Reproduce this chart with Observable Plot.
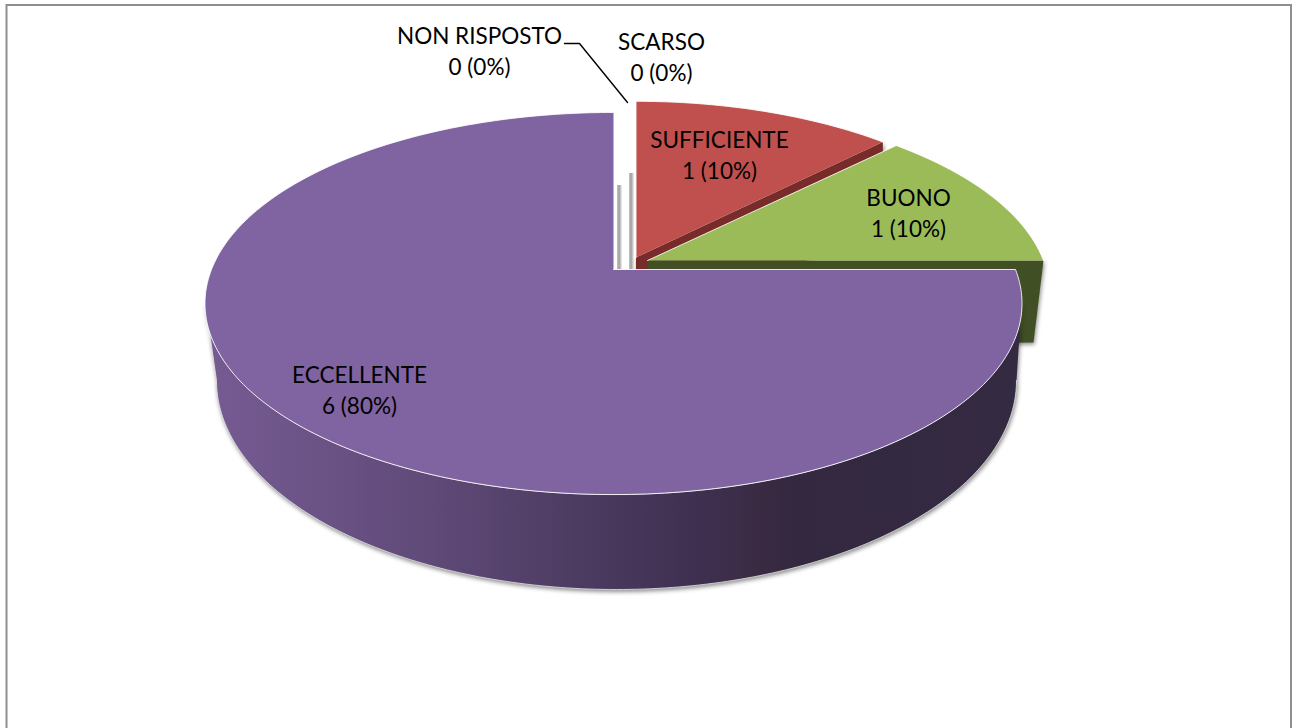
<!DOCTYPE html>
<html><head><meta charset="utf-8">
<script src="https://cdn.jsdelivr.net/npm/d3@7"></script>
<script src="https://cdn.jsdelivr.net/npm/@observablehq/plot@0.6"></script>
<style>html,body{margin:0;padding:0;background:#fff}svg{display:block}</style>
</head><body><div id="chart"></div>
<script>
// data (clockwise from twelve o'clock)
const categories = ["SCARSO", "SUFFICIENTE", "BUONO", "ECCELLENTE", "NON RISPOSTO"];
const counts = [0, 1, 1, 6, 0];
const percents = [0, 10, 10, 80, 0];
const topColors = ["#ffffff", "#c0504d", "#9bbb59", "#8063a1", "#ffffff"];
const wallColors = ["#d0d0d0", "#772c2a", "#404f24", "#33293f", "#d0d0d0"];
const labelX = [661, 719, 908, 359, 479];
const labelY = [55, 153, 211, 388, 49];
// perspective of each exploded slice: apex position and projection factors
const apexX = [631, 635.5, 647, 613, 619];
const apexY = [269, 257, 260, 269, 269];
const scaleA = [402, 393, 396, 402, 402];
const scaleB = [184, 184, 183, 185, 185];
const tilt = 0.178;
const depth = 84, outerDrop = 82;
const leaderX = [564, 579, 627];
const leaderY = [43, 43, 102];

const total = d3.sum(counts);
const project = (i, deg) => {
  const r = deg * Math.PI / 180, X = Math.sin(r), Y = Math.cos(r), d = 1 + tilt * Y;
  return [apexX[i] + scaleA[i] * X / d, apexY[i] - scaleB[i] * Y / d];
};
let acc = 0;
const slices = categories.map((c, i) => {
  const a0 = acc / total * 360; acc += counts[i];
  return {c, i, a0, a1: acc / total * 360};
});
const arc = s => d3.range(s.a0, s.a1 + 0.01, 1).map(a => project(s.i, a));
const facePts = s => [[apexX[s.i], apexY[s.i]], ...arc(s)];

const faceRows = [], wallRows = [];
// back walls of the exploded slices (cut face plus outer corner)
for (const i of [1, 2]) {
  const s = slices[i], end = project(i, s.a1);
  const inset = i === 2 ? 10 : 0;
  [[apexX[i], apexY[i]], end, [end[0] - inset, end[1] + outerDrop], [apexX[i], apexY[i] + depth]]
    .forEach(p => wallRows.push({k: categories[i], i, x: p[0], y: p[1]}));
}
for (const s of slices.filter(s => counts[s.i] > 0))
  facePts(s).forEach(p => faceRows.push({k: s.c, i: s.i, x: p[0], y: p[1]}));

// round body of the big slice: front half of its rim and the floor ellipse
const rimCx = 613, rimCy = 303, rimRx = 408, rimRy = 191;
const footCx = 616, footCy = 380, footRx = 400, footRy = 209;
const bodyRows = [
  ...d3.range(0, 181, 1).map(t => ({x: rimCx + rimRx * Math.cos(t * Math.PI / 180), y: rimCy + rimRy * Math.sin(t * Math.PI / 180)})),
  ...d3.range(180, -1, -1).map(t => ({x: footCx + footRx * Math.cos(t * Math.PI / 180), y: footCy + footRy * Math.sin(t * Math.PI / 180)}))
];
// walls of the two empty slices: thin slivers in the gap
const slivers = [0, 4].map(i => ({c: categories[i], x1: apexX[i] - 2, x2: apexX[i] + 3.5, y1: apexY[i] - depth - (i === 0 ? 12 : 0), y2: apexY[i]}));

const gradients = () => {
  const svg = d3.create("svg:g");
  const defs = svg.append("defs");
  const g = defs.append("linearGradient").attr("id", "bodyFill");
  [[0, "#765b92"], [0.15, "#6a5285"], [0.3, "#5d4875"], [0.45, "#4d3c62"], [0.6, "#3f3051"], [0.68, "#3a2b43"], [0.72, "#33283f"], [1, "#342a42"]]
    .forEach(([o, c]) => g.append("stop").attr("offset", o).attr("stop-color", c));
  const h = defs.append("linearGradient").attr("id", "sliverFill");
  [[0, "#c4c4c4"], [0.4, "#a0a0a0"], [1, "#ffffff"]]
    .forEach(([o, c]) => h.append("stop").attr("offset", o).attr("stop-color", c));
  return svg.node();
};

const shadow = "drop-shadow(1px 2px 2px rgba(0,0,0,0.45))";
const labels = categories.map((c, i) => ({text: `${c}\n${counts[i]} (${percents[i]}%)`, x: labelX[i], y: labelY[i]}));

const chart = Plot.plot({
  width: 1292, height: 728, margin: 0,
  style: {background: "#fff", fontFamily: "Lato, sans-serif"},
  x: {domain: [0, 1292], range: [0, 1292], axis: null},
  y: {domain: [0, 728], range: [0, 728], axis: null},
  color: {type: "identity"},
  marks: [
    gradients,
    Plot.frame({stroke: "#8f8f8f", strokeWidth: 2, insetLeft: 6, insetTop: 4.5, insetRight: 1.5, insetBottom: -6}),
    Plot.rect(slivers, {x1: "x1", x2: "x2", y1: "y1", y2: "y2", fill: "url(#sliverFill)"}),
    Plot.line(wallRows, {x: "x", y: "y", z: "k", fill: d => wallColors[d.i], stroke: null, imageFilter: shadow}),
    Plot.line(bodyRows, {x: "x", y: "y", fill: "url(#bodyFill)", stroke: "#e4e4e4", strokeWidth: 0.8, imageFilter: shadow}),
    Plot.line(faceRows, {x: "x", y: "y", z: "k", fill: d => topColors[d.i], stroke: "#ffffff", strokeWidth: 1, strokeOpacity: 0.85}),
    Plot.line(leaderX.map((x, i) => ({x, y: leaderY[i]})), {x: "x", y: "y", stroke: "#000", strokeWidth: 1.4}),
    Plot.text(labels, {x: "x", y: "y", text: "text", fontSize: 22.5, lineHeight: 1.4, fill: "#000", lineAnchor: "middle"})
  ]
});
document.getElementById("chart").append(chart);
</script></body></html>
